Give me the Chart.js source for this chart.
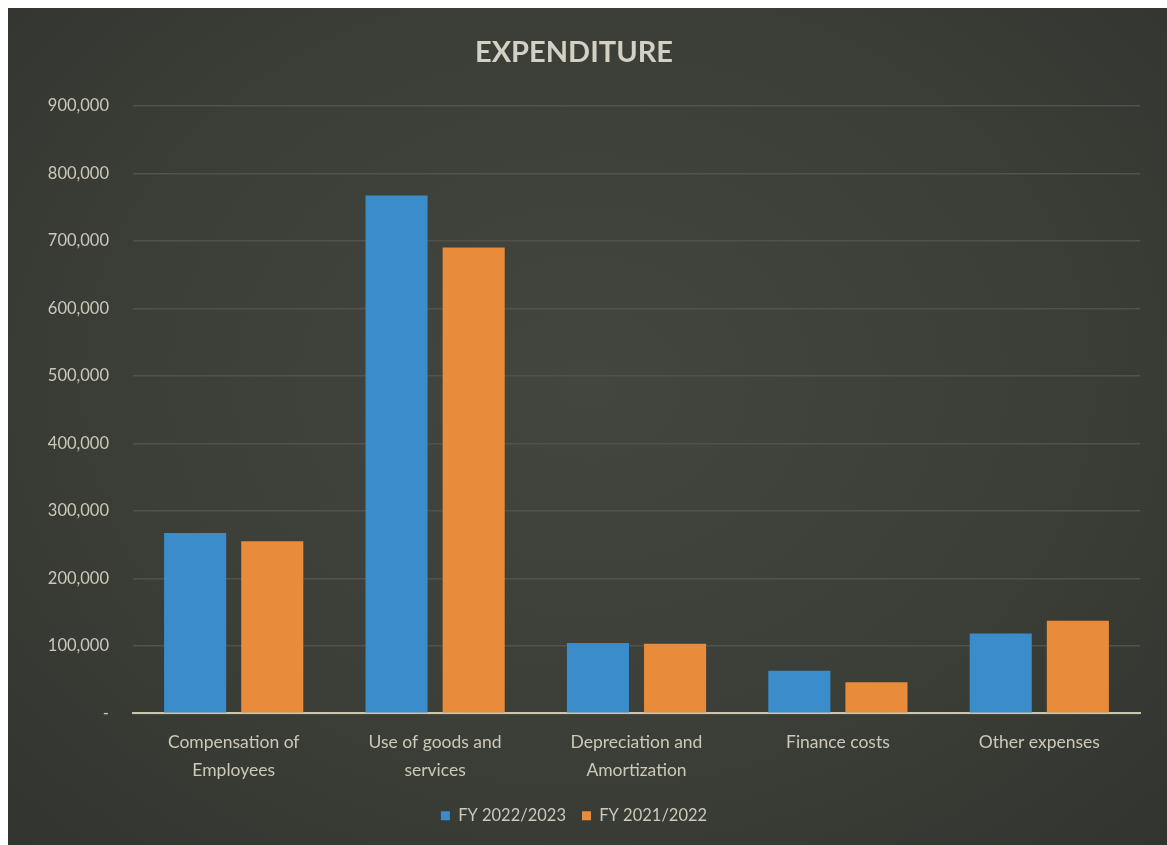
<!DOCTYPE html>
<html>
<head>
<meta charset="utf-8">
<script src="https://cdn.jsdelivr.net/npm/chart.js@4"></script>
<style>
  html, body { margin: 0; padding: 0; background: #ffffff; }
  #marco {
    position: absolute; left: 8px; top: 8px; width: 1159px; height: 837px;
    background: radial-gradient(ellipse at 50% 45%, #43453f 0%, #3c3e38 55%, #32342f 100%);
  }
</style>
</head>
<body>
<div id="marco"><canvas id="grafico-gasto" width="1159" height="837"></canvas></div>
<script>
const categorias = [
  ['Compensation of', 'Employees'],
  ['Use of goods and', 'services'],
  ['Depreciation and', 'Amortization'],
  'Finance costs',
  'Other expenses'
];
const gasto2023 = [267000, 767000, 104000, 63000, 118000];
const gasto2022 = [255000, 690000, 103000, 46000, 137000];
const nombresSeries = ['FY 2022/2023', 'FY 2021/2022'];

const colorTexto = '#cbc9b8';
const fuente = 'Lato, "Open Sans", sans-serif';

const ctx = document.getElementById('grafico-gasto').getContext('2d');
new Chart(ctx, {
  type: 'bar',
  data: {
    labels: categorias,
    datasets: [
      { label: nombresSeries[0], data: gasto2023, backgroundColor: '#3a8ccb' },
      { label: nombresSeries[1], data: gasto2022, backgroundColor: '#e88b3b' }
    ]
  },
  options: {
    responsive: false,
    animation: false,
    layout: { padding: { top: 27, right: 27, left: 0, bottom: 11 } },
    datasets: { bar: { categoryPercentage: 0.766, barPercentage: 0.805 } },
    plugins: {
      title: {
        display: true,
        text: 'EXPENDITURE',
        color: '#d3d1c3',
        font: { family: fuente, size: 29, weight: 'bold' },
        padding: { top: 0, bottom: 36 }
      },
      legend: {
        position: 'bottom',
        labels: {
          color: colorTexto,
          boxWidth: 9,
          boxHeight: 9,
          padding: 16,
          font: { family: fuente, size: 16.5 }
        }
      },
      tooltip: { enabled: false }
    },
    scales: {
      x: {
        grid: { display: false },
        border: { color: '#c9c6ad', width: 2 },
        ticks: {
          color: colorTexto,
          padding: 8,
          maxRotation: 0,
          font: { family: fuente, size: 17.5, lineHeight: 1.55 }
        }
      },
      y: {
        min: 0,
        max: 900000,
        afterFit: (eje) => { eje.width = 125; },
        grid: { color: '#50524b', lineWidth: 1.5, drawTicks: false },
        border: { display: false },
        ticks: {
          stepSize: 100000,
          color: colorTexto,
          padding: 24,
          font: { family: fuente, size: 16.5 },
          callback: (v) => v === 0 ? '-' : v.toLocaleString('en-US')
        }
      }
    }
  }
});
</script>
</body>
</html>
